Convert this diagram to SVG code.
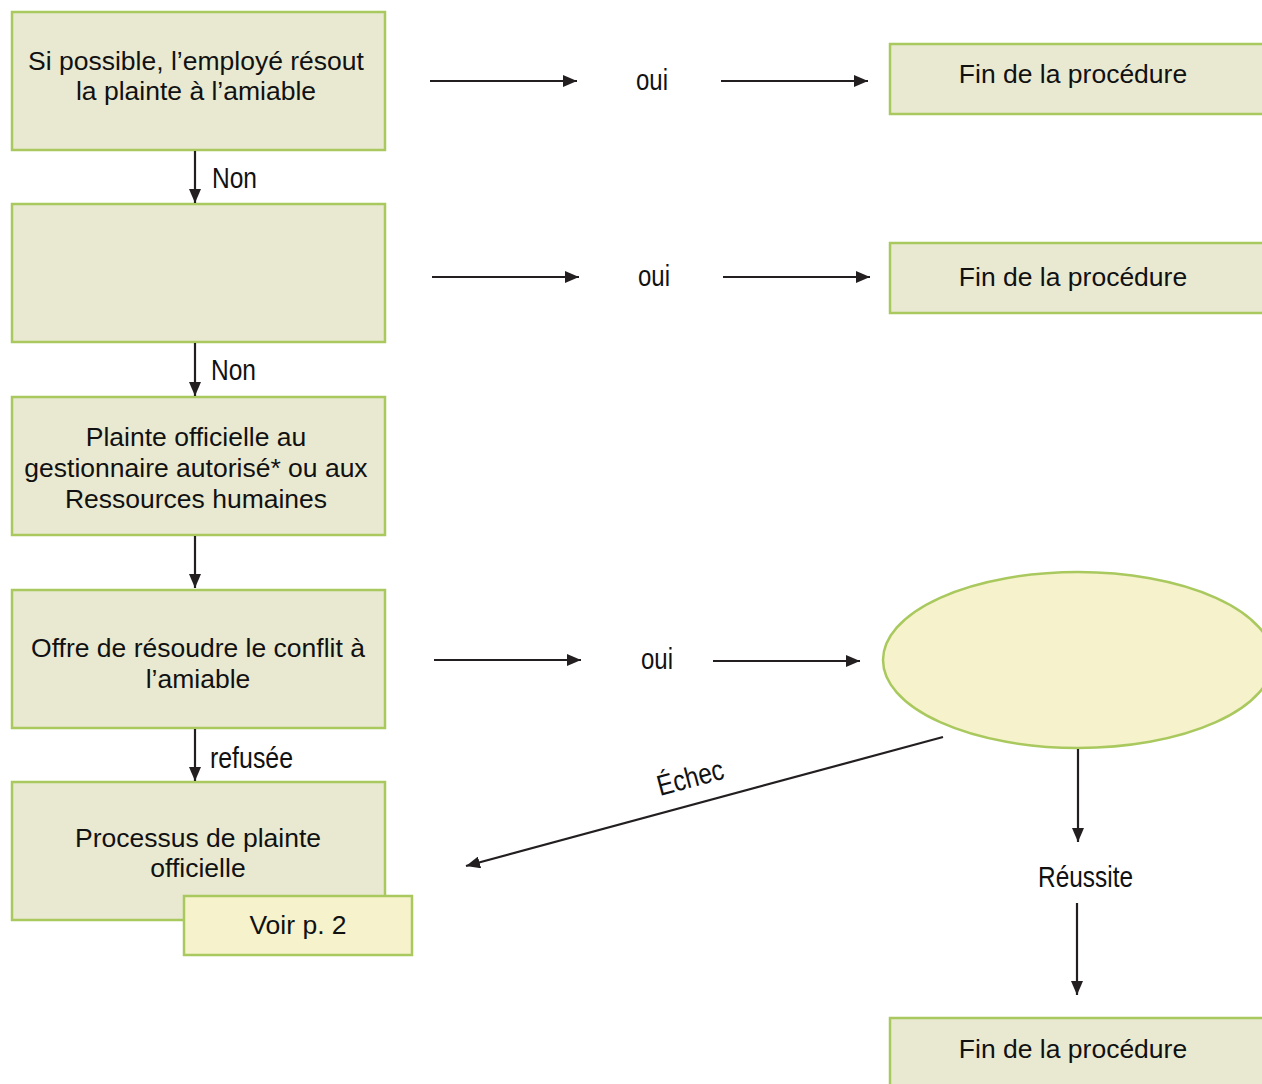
<svg xmlns="http://www.w3.org/2000/svg" width="1262" height="1084" viewBox="0 0 1262 1084">
<defs>
<marker id="ah" viewBox="0 0 14 12" refX="14" refY="6" markerWidth="14" markerHeight="12" markerUnits="userSpaceOnUse" orient="auto">
<path d="M0,0 L14,6 L0,12 Z" fill="#231F20"/>
</marker>
<style>
.box{fill:#E9E9D1;stroke:#A9C95F;stroke-width:2.5}
.note{fill:#F6F2CB;stroke:#A9C95F;stroke-width:2.5}
.t{font-family:"Liberation Sans",Arial,sans-serif;font-size:26.5px;fill:#111;text-anchor:middle}
.l{font-family:"Liberation Sans",Arial,sans-serif;font-size:29px;fill:#111}
.c{stroke:#231F20;stroke-width:2.2;fill:none;marker-end:url(#ah)}
</style>
</defs>
<rect width="1262" height="1084" fill="#fff"/>
<g id="n1"><rect class="box" x="12" y="12" width="373" height="138"/>
<text class="t" x="196" y="70">Si possible, l’employé résout</text>
<text class="t" x="196" y="100">la plainte à l’amiable</text></g>
<g id="n2"><rect class="box" x="12" y="204" width="373" height="138"/></g>
<g id="n3"><rect class="box" x="12" y="397" width="373" height="138"/>
<text class="t" x="196" y="446">Plainte officielle au</text>
<text class="t" x="196" y="477">gestionnaire autorisé* ou aux</text>
<text class="t" x="196" y="508">Ressources humaines</text></g>
<g id="n4"><rect class="box" x="12" y="590" width="373" height="138"/>
<text class="t" x="198" y="657">Offre de résoudre le conflit à</text>
<text class="t" x="198" y="688">l’amiable</text></g>
<g id="n5"><rect class="box" x="12" y="782" width="373" height="138"/>
<text class="t" x="198" y="847">Processus de plainte</text>
<text class="t" x="198" y="877">officielle</text></g>
<g id="n6"><rect class="note" x="184" y="896" width="228" height="59"/>
<text class="t" x="298" y="934">Voir p. 2</text></g>
<g id="e1"><rect class="box" x="890" y="44" width="380" height="70"/>
<text class="t" x="1073" y="83">Fin de la procédure</text></g>
<g id="e2"><rect class="box" x="890" y="243" width="380" height="70"/>
<text class="t" x="1073" y="286">Fin de la procédure</text></g>
<g id="e3"><rect class="box" x="890" y="1018" width="380" height="80"/>
<text class="t" x="1073" y="1058">Fin de la procédure</text></g>
<g id="ell"><ellipse cx="1078" cy="660" rx="195" ry="88" fill="#F6F2CB" stroke="#A9C95F" stroke-width="2.5"/></g>
<g id="connectors">
<line class="c" x1="430" y1="81" x2="577" y2="81"/>
<line class="c" x1="721" y1="81" x2="868" y2="81"/>
<line class="c" x1="432" y1="277" x2="579" y2="277"/>
<line class="c" x1="723" y1="277" x2="870" y2="277"/>
<line class="c" x1="434" y1="660" x2="581" y2="660"/>
<line class="c" x1="713" y1="661" x2="860" y2="661"/>
<line class="c" x1="195" y1="151" x2="195" y2="203"/>
<line class="c" x1="195" y1="343" x2="195" y2="396"/>
<line class="c" x1="195" y1="536" x2="195" y2="588"/>
<line class="c" x1="195" y1="729" x2="195" y2="781"/>
<line class="c" x1="943" y1="737" x2="466" y2="866"/>
<line class="c" x1="1078" y1="749" x2="1078" y2="842"/>
<line class="c" x1="1077" y1="903" x2="1077" y2="995"/>
<text class="l" x="636" y="90" textLength="32" lengthAdjust="spacingAndGlyphs">oui</text>
<text class="l" x="638" y="286" textLength="32" lengthAdjust="spacingAndGlyphs">oui</text>
<text class="l" x="641" y="669" textLength="32" lengthAdjust="spacingAndGlyphs">oui</text>
<text class="l" x="212" y="188" textLength="45" lengthAdjust="spacingAndGlyphs">Non</text>
<text class="l" x="211" y="380" textLength="45" lengthAdjust="spacingAndGlyphs">Non</text>
<text class="l" x="210" y="768" textLength="83" lengthAdjust="spacingAndGlyphs">refusée</text>
<text class="l" x="1038" y="887" textLength="95" lengthAdjust="spacingAndGlyphs">Réussite</text>
<text class="l" transform="translate(660,796) rotate(-15)" textLength="68" lengthAdjust="spacingAndGlyphs">Échec</text>
</g>
</svg>
